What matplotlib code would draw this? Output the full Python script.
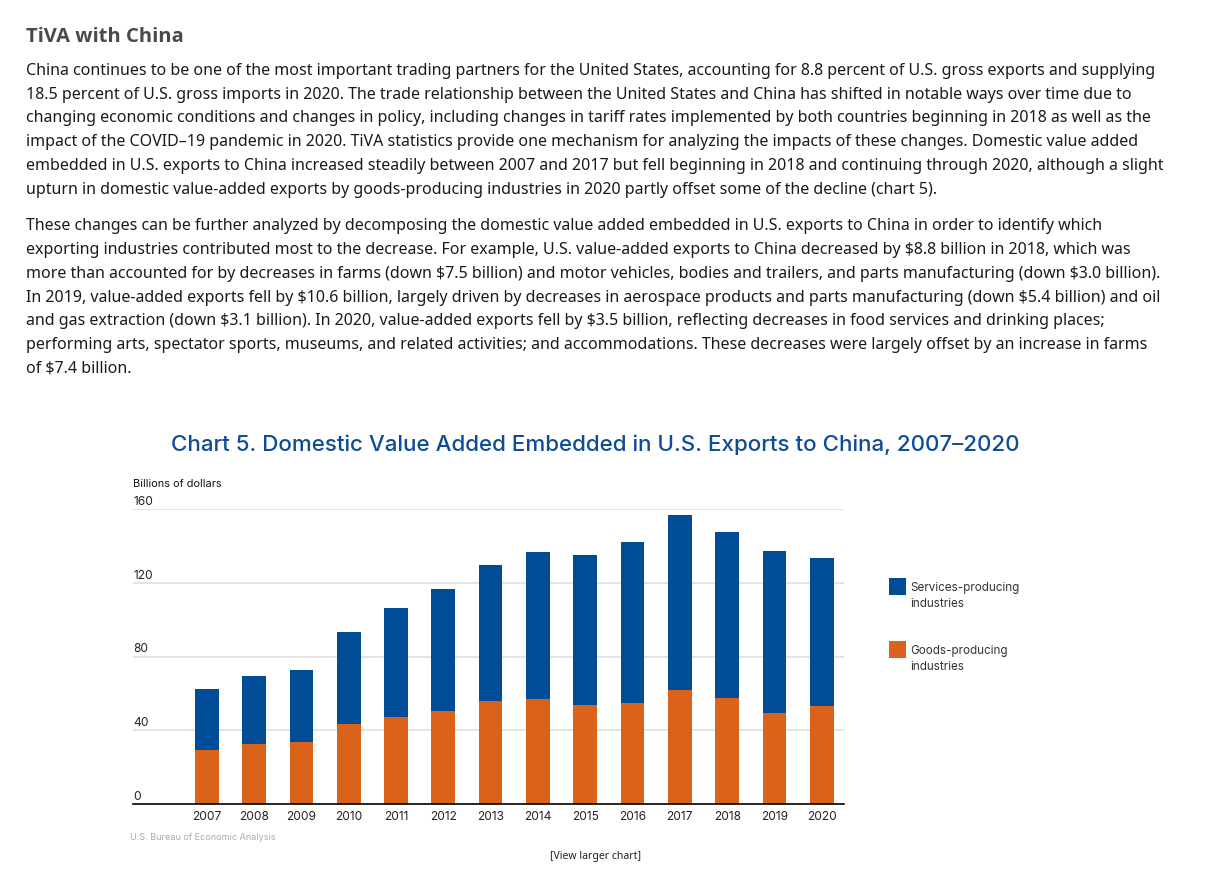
import matplotlib
matplotlib.use("Agg")
import matplotlib.pyplot as plt
import matplotlib.transforms as mtransforms
from matplotlib.patches import Rectangle

plt.rcParams["text.parse_math"] = False

W, H = 1226, 876

years = [str(y) for y in range(2007, 2021)]
total = [62.5, 69.4, 72.7, 93.3, 106.1, 116.5, 129.7, 136.7, 135.0, 142.1, 156.6, 147.7, 137.0, 133.6]
goods = [29.3, 32.5, 33.6, 43.3, 47.3, 50.3, 55.9, 56.9, 53.7, 54.6, 61.7, 57.5, 49.4, 53.3]
services = [round(t - g, 1) for t, g in zip(total, goods)]
yticks = [0, 40, 80, 120, 160]

heading = "TiVA with China"
para1 = [
    "China continues to be one of the most important trading partners for the United States, accounting for 8.8 percent of U.S. gross exports and supplying",
    "18.5 percent of U.S. gross imports in 2020. The trade relationship between the United States and China has shifted in notable ways over time due to",
    "changing economic conditions and changes in policy, including changes in tariff rates implemented by both countries beginning in 2018 as well as the",
    "impact of the COVID\u201319 pandemic in 2020. TiVA statistics provide one mechanism for analyzing the impacts of these changes. Domestic value added",
    "embedded in U.S. exports to China increased steadily between 2007 and 2017 but fell beginning in 2018 and continuing through 2020, although a slight",
    "upturn in domestic value-added exports by goods-producing industries in 2020 partly offset some of the decline (chart 5).",
]
para2 = [
    "These changes can be further analyzed by decomposing the domestic value added embedded in U.S. exports to China in order to identify which",
    "exporting industries contributed most to the decrease. For example, U.S. value-added exports to China decreased by $8.8 billion in 2018, which was",
    "more than accounted for by decreases in farms (down $7.5 billion) and motor vehicles, bodies and trailers, and parts manufacturing (down $3.0 billion).",
    "In 2019, value-added exports fell by $10.6 billion, largely driven by decreases in aerospace products and parts manufacturing (down $5.4 billion) and oil",
    "and gas extraction (down $3.1 billion). In 2020, value-added exports fell by $3.5 billion, reflecting decreases in food services and drinking places;",
    "performing arts, spectator sports, museums, and related activities; and accommodations. These decreases were largely offset by an increase in farms",
    "of $7.4 billion.",
]
para1_y = [71, 95, 118, 142, 166, 190]
para2_y = [226, 250, 274, 298, 321, 345, 369]

BLUE = "#004c97"
ORANGE = "#da621b"
TEXT_FONT = ["Noto Sans", "DejaVu Sans"]
HEAD_FONT = ["Open Sans", "DejaVu Sans"]
CHART_FONT = ["Inter", "DejaVu Sans"]


def fx(x):
    return x / W


def fy(y):
    return 1 - y / H


fig = plt.figure(figsize=(W / 100, H / 100), dpi=100)
fig.patch.set_facecolor("white")

# page text
fig.text(fx(26), fy(37), heading, family=HEAD_FONT, fontsize=14.5, fontweight="bold",
         color="#4a4a4a", ha="left", va="center")
for line, y in zip(para1, para1_y):
    fig.text(fx(26), fy(y), line, family=TEXT_FONT, fontsize=11.5, color="#1a1a1a",
             ha="left", va="center")
for line, y in zip(para2, para2_y):
    fig.text(fx(26), fy(y), line, family=TEXT_FONT, fontsize=11.5, color="#1a1a1a",
             ha="left", va="center")

# chart title
fig.text(fx(595), fy(445), "Chart 5. Domestic Value Added Embedded in U.S. Exports to China, 2007\u20132020",
         family=CHART_FONT, fontsize=16.1, fontweight="medium", color="#0f4c97", ha="center", va="center")

# axes
ax = fig.add_axes([fx(133), fy(804), (844 - 133) / W, (804 - 509) / H])
x = list(range(len(years)))
ax.bar(x, goods, width=0.5, color=ORANGE, zorder=3, label="Goods-producing\nindustries")
ax.bar(x, services, width=0.5, bottom=goods, color=BLUE, zorder=3, label="Services-producing\nindustries")
ax.set_xlim(-1.56, 13.47)
ax.set_ylim(0, 160)
for s in ["top", "right", "left"]:
    ax.spines[s].set_visible(False)
ax.spines["bottom"].set_color("black")
ax.spines["bottom"].set_linewidth(1.2)
ax.spines["bottom"].set_zorder(4)
for t in yticks[1:]:
    ax.axhline(t, color="#e4e4e4", linewidth=1.4, zorder=1)
ax.set_yticks([])
ax.set_xticks(x)
ax.set_xticklabels(years, family=CHART_FONT, fontsize=8.6, color="#222222")
ax.tick_params(axis="x", length=0, pad=5)

# y tick labels sit above their gridlines
trans = mtransforms.offset_copy(ax.get_yaxis_transform(), fig=fig, x=0, y=1, units="dots")
for t in yticks:
    ax.text(0, t, str(t), transform=trans, family=CHART_FONT, fontsize=8.6,
            color="#222222", ha="left", va="bottom")
fig.text(fx(133), fy(484), "Billions of dollars", family=CHART_FONT, fontsize=7.9,
         color="#111111", ha="left", va="center")

# legend
handles, labels = ax.get_legend_handles_labels()
for (hx, hy, col, lab) in [(889, 578, BLUE, labels[1]), (889, 641, ORANGE, labels[0])]:
    fig.patches.append(Rectangle((fx(hx), fy(hy + 17)), 17 / W, 17 / H, transform=fig.transFigure,
                                 facecolor=col, edgecolor="none"))
    fig.text(fx(910), fy(hy + 18), lab, family=CHART_FONT, fontsize=8.4, color="#333333",
             ha="left", va="center", linespacing=1.5)

fig.text(fx(130), fy(837), "U.S. Bureau of Economic Analysis", family=CHART_FONT, fontsize=6.5,
         color="#aaaaaa", ha="left", va="center")
fig.text(fx(596), fy(856), "[View larger chart]", family=TEXT_FONT, fontsize=7.5,
         color="#222222", ha="center", va="center")

fig.savefig("out.png", dpi=100)
